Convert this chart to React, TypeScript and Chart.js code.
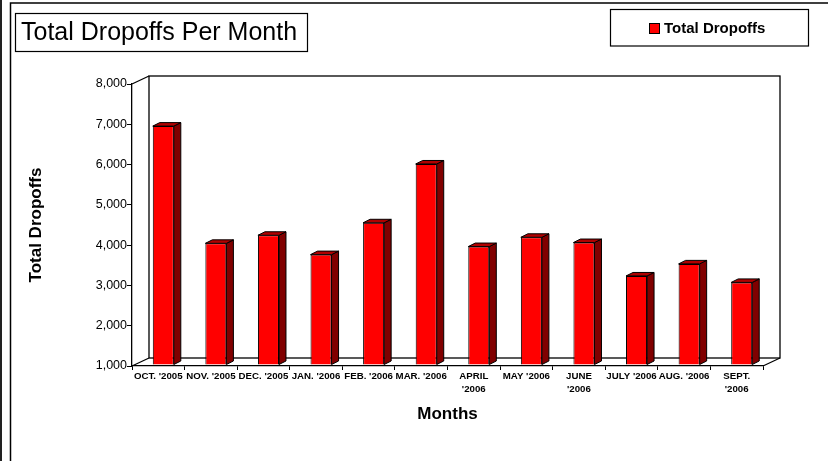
import React, { useEffect, useRef } from "react";
import { Chart, registerables } from "chart.js";

Chart.register(...registerables);

const categories: (string | string[])[] = [
  "OCT. '2005",
  "NOV. '2005",
  "DEC. '2005",
  "JAN. '2006",
  "FEB. '2006",
  "MAR. '2006",
  ["APRIL", "'2006"],
  "MAY '2006",
  ["JUNE", "'2006"],
  "JULY '2006",
  "AUG. '2006",
  ["SEPT.", "'2006"],
];
const totalDropoffs = [6930, 4020, 4220, 3740, 4530, 5990, 3940, 4170, 4040, 3210, 3510, 3050];
const yMin = 1000;
const yMax = 8000;
const yStep = 1000;
const seriesName = "Total Dropoffs";
const chartTitle = "Total Dropoffs Per Month";
const xTitle = "Months";
const yTitle = "Total Dropoffs";

const FONT = "'Liberation Sans', Arial, Helvetica, sans-serif";
const WALL_DX = 17;
const WALL_DY = -8;
const BAR_DX = 7;
const BAR_DY = -3.5;
const SHIFT_X = 5;
const SHIFT_Y = -1;

const decorPlugin = {
  id: "decor3d",
  beforeDraw(chart: any) {
    const ctx = chart.ctx;
    ctx.save();
    ctx.fillStyle = "#fff";
    ctx.fillRect(0, 0, chart.width, chart.height);
    ctx.strokeStyle = "#222";
    ctx.lineWidth = 2;
    ctx.beginPath();
    ctx.moveTo(1, 0);
    ctx.lineTo(1, chart.height);
    ctx.stroke();
    ctx.strokeStyle = "#000";
    ctx.lineWidth = 1.5;
    ctx.beginPath();
    ctx.moveTo(10.5, chart.height);
    ctx.lineTo(10.5, 3);
    ctx.lineTo(chart.width, 3);
    ctx.stroke();
    ctx.restore();
  },
  beforeDatasetsDraw(chart: any) {
    const ctx = chart.ctx;
    const { left, right, top, bottom } = chart.chartArea;
    ctx.save();
    ctx.strokeStyle = "#000";
    ctx.lineWidth = 1.3;
    ctx.fillStyle = "#fff";
    ctx.fillRect(left + WALL_DX, top + WALL_DY, right - left, bottom - top);
    ctx.strokeRect(left + WALL_DX, top + WALL_DY, right - left, bottom - top);
    ctx.beginPath();
    ctx.moveTo(left, top);
    ctx.lineTo(left + WALL_DX, top + WALL_DY);
    ctx.moveTo(left, bottom);
    ctx.lineTo(left + WALL_DX, bottom + WALL_DY);
    ctx.moveTo(right, bottom);
    ctx.lineTo(right + WALL_DX, bottom + WALL_DY);
    ctx.stroke();
    ctx.restore();
    ctx.save();
    ctx.translate(SHIFT_X, SHIFT_Y);
  },
  afterDatasetsDraw(chart: any) {
    const ctx = chart.ctx;
    const meta = chart.getDatasetMeta(0);
    ctx.lineWidth = 1;
    ctx.strokeStyle = "#000";
    meta.data.forEach((el: any) => {
      const { x, y, base, width } = el.getProps(["x", "y", "base", "width"], true);
      const L = x - width / 2;
      const R = x + width / 2;
      const T = y;
      const B = base;
      ctx.beginPath();
      ctx.moveTo(R, T);
      ctx.lineTo(R + BAR_DX, T + BAR_DY);
      ctx.lineTo(R + BAR_DX, B + BAR_DY);
      ctx.lineTo(R, B);
      ctx.closePath();
      ctx.fillStyle = "#800000";
      ctx.fill();
      ctx.stroke();
      ctx.beginPath();
      ctx.moveTo(L, T);
      ctx.lineTo(L + BAR_DX, T + BAR_DY);
      ctx.lineTo(R + BAR_DX, T + BAR_DY);
      ctx.lineTo(R, T);
      ctx.closePath();
      ctx.fillStyle = "#B00000";
      ctx.fill();
      ctx.stroke();
    });
    ctx.restore();
  },
  afterDraw(chart: any) {
    const ctx = chart.ctx;
    ctx.save();
    ctx.strokeStyle = "#000";
    ctx.lineWidth = 1.2;
    // title box
    ctx.strokeRect(15.5, 13.5, 292, 38);
    ctx.fillStyle = "#000";
    ctx.font = `25px ${FONT}`;
    ctx.textBaseline = "middle";
    ctx.textAlign = "left";
    ctx.fillText(chartTitle, 21, 33);
    // legend box
    ctx.strokeRect(610.5, 9.5, 198, 36.5);
    ctx.fillStyle = "#FF0000";
    ctx.fillRect(649, 23, 10, 10);
    ctx.lineWidth = 1;
    ctx.strokeRect(649.5, 23.5, 10, 10);
    ctx.fillStyle = "#000";
    ctx.font = `bold 15px ${FONT}`;
    ctx.fillText(seriesName, 664, 28.5);
    ctx.restore();
  },
};

export default function App() {
  const ref = useRef<HTMLCanvasElement | null>(null);
  useEffect(() => {
    document.body.style.margin = "0";
    const canvas = ref.current;
    if (!canvas) return;
    const chart = new Chart(canvas, {
      type: "bar",
      data: {
        labels: categories as any,
        datasets: [
          {
            label: seriesName,
            data: totalDropoffs,
            backgroundColor: "#FF0000",
            borderColor: "#000",
            borderWidth: 1,
            barPercentage: 0.4,
            categoryPercentage: 1,
            base: yMin,
          } as any,
        ],
      },
      options: {
        responsive: false,
        animation: false,
        devicePixelRatio: 1,
        layout: { padding: { left: 0, right: 65, top: 84, bottom: 36 } },
        plugins: {
          legend: { display: false },
          title: { display: false },
          tooltip: { enabled: false },
        },
        scales: {
          x: {
            afterFit: (s: any) => {
              s.height = 59;
            },
            grid: {
              drawOnChartArea: false,
              drawTicks: true,
              tickLength: 4,
              color: "#000",
              offset: true,
            },
            border: { display: true, color: "#000", width: 1.3 },
            ticks: {
              autoSkip: false,
              maxRotation: 0,
              minRotation: 0,
              padding: 0,
              color: "#000",
              font: { family: FONT, size: 9.7, weight: "bold", lineHeight: 1.35 },
            },
            title: {
              display: true,
              text: xTitle,
              color: "#000",
              font: { family: FONT, size: 17, weight: "bold", lineHeight: 1.2 },
              padding: { top: 0, bottom: 0 },
            },
          },
          y: {
            min: yMin,
            max: yMax,
            afterFit: (s: any) => {
              s.width = 132;
            },
            grid: {
              drawOnChartArea: false,
              drawTicks: true,
              tickLength: 5,
              color: "#000",
            },
            border: { display: true, color: "#000", width: 1.3 },
            ticks: {
              stepSize: yStep,
              padding: 0,
              color: "#000",
              font: { family: FONT, size: 12.5 },
              callback: (v: any) => Number(v).toLocaleString("en-US"),
            },
            title: {
              display: true,
              text: yTitle,
              color: "#000",
              font: { family: FONT, size: 17, weight: "bold", lineHeight: 1.2 },
              padding: { top: 26, bottom: 0 },
            },
          },
        },
      },
      plugins: [decorPlugin],
    });
    return () => chart.destroy();
  }, []);
  return (
    <div style={{ width: 828, height: 461 }}>
      <canvas ref={ref} width={828} height={461} style={{ display: "block", width: 828, height: 461 }} />
    </div>
  );
}
